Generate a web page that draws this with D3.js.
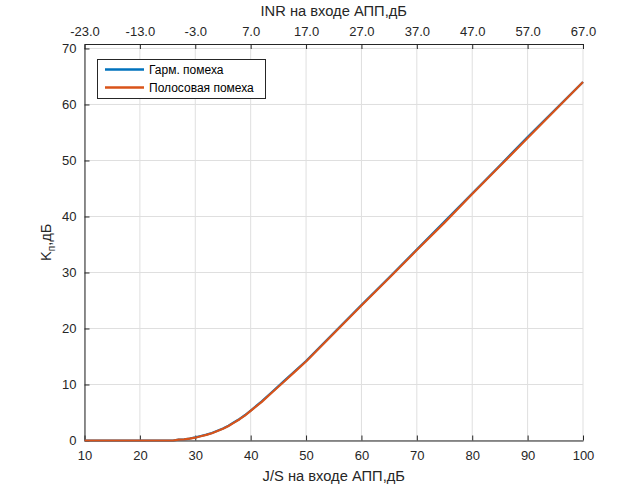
<!DOCTYPE html>
<html>
<head>
<meta charset="utf-8">
<script src="https://cdn.jsdelivr.net/npm/d3@7"></script>
<style>
  body { margin: 0; background: #fff; }
  svg { font-family: "Liberation Sans", Arial, Helvetica, sans-serif; }
</style>
</head>
<body>
<svg id="chart" width="644" height="484"></svg>
<script>
// J/S на входе АПП, дБ
var jsValues = [10, 14, 18, 22, 26, 27, 28, 29, 30, 31, 32, 33, 34, 35, 36, 37, 38, 39, 40,
                42, 44, 46, 48, 50, 55, 60, 65, 70, 75, 80, 85, 90, 95, 100];
// K_п, дБ
var harmK = [0, 0, 0, 0, 0, 0.15, 0.2, 0.35, 0.55, 0.8, 1.05, 1.35, 1.75, 2.15, 2.65, 3.25, 3.85, 4.55, 5.35,
             7.0, 8.8, 10.6, 12.4, 14.2, 19.2, 24.2, 29.1, 34.1, 39.1, 44.1, 49.1, 54.2, 59.1, 64.0];
var bandK = [0, 0, 0, 0, 0, 0.15, 0.2, 0.35, 0.5, 0.75, 1.0, 1.3, 1.7, 2.1, 2.6, 3.2, 3.8, 4.5, 5.3,
             6.9, 8.7, 10.5, 12.3, 14.1, 19.1, 24.1, 29.0, 34.0, 38.9, 44.0, 49.0, 54.0, 59.0, 64.0];

var seriesNames = ["Гарм. помеха", "Полосовая помеха"];
var seriesColors = ["#0072BD", "#D95319"];

var xTicks = [10, 20, 30, 40, 50, 60, 70, 80, 90, 100];
var inrTicks = [-23, -13, -3, 7, 17, 27, 37, 47, 57, 67];
var yTicks = [0, 10, 20, 30, 40, 50, 60, 70];

var svg = d3.select("#chart");

var pLeft = 84.5, pRight = 583, pTop = 44, pBottom = 440.5;

var x = d3.scaleLinear().domain([10, 100]).range([pLeft, pRight]),
    xTop = d3.scaleLinear().domain([-23, 67]).range([pLeft, pRight]),
    y = d3.scaleLinear().domain([0, 70.8]).range([pBottom, pTop]);

var axisColor = "#262626",
    gridColor = "#dfdfdf";

// grid
var grid = svg.append("g");
grid.selectAll("line.gx")
  .data(xTicks)
  .enter().append("line")
  .attr("x1", function(d) { return x(d); })
  .attr("x2", function(d) { return x(d); })
  .attr("y1", pTop).attr("y2", pBottom)
  .attr("stroke", gridColor).attr("stroke-width", 1);
grid.selectAll("line.gy")
  .data(yTicks)
  .enter().append("line")
  .attr("x1", pLeft).attr("x2", pRight)
  .attr("y1", function(d) { return y(d); })
  .attr("y2", function(d) { return y(d); })
  .attr("stroke", gridColor).attr("stroke-width", 1);

// axes
function styleAxis(g) {
  g.select(".domain").attr("stroke", axisColor).attr("stroke-width", 1);
  g.selectAll(".tick line").attr("stroke", axisColor);
  g.selectAll(".tick text").attr("fill", axisColor).attr("font-size", "13px")
    .attr("font-family", "'Liberation Sans', Arial, sans-serif");
}

var fmtTop = function(d) { return d3.format(".1f")(d).replace("\u2212", "-"); };

svg.append("g")
  .attr("transform", "translate(0," + pBottom + ")")
  .call(d3.axisBottom(x).tickValues(xTicks).tickSizeInner(-5).tickSizeOuter(0).tickPadding(10))
  .call(styleAxis);

svg.append("g")
  .attr("transform", "translate(0," + pTop + ")")
  .call(d3.axisTop(xTop).tickValues(inrTicks).tickFormat(fmtTop).tickSizeInner(-5).tickSizeOuter(0).tickPadding(8))
  .call(styleAxis);

svg.append("g")
  .attr("transform", "translate(" + pLeft + ",0)")
  .call(d3.axisLeft(y).tickValues(yTicks).tickSizeInner(-5).tickSizeOuter(0).tickPadding(8))
  .call(styleAxis);

// curves
var line = d3.line()
  .x(function(d) { return x(d[0]); })
  .y(function(d) { return y(d[1]); });

[harmK, bandK].forEach(function(vals, i) {
  svg.append("path")
    .datum(jsValues.map(function(v, j) { return [v, vals[j]]; }))
    .attr("d", line)
    .attr("fill", "none")
    .attr("stroke", seriesColors[i])
    .attr("stroke-width", 2.2)
    .attr("stroke-linejoin", "round");
});

// labels
svg.append("text")
  .attr("x", (pLeft + pRight) / 2).attr("y", 481)
  .attr("text-anchor", "middle")
  .attr("font-size", "14.7px").attr("fill", axisColor)
  .text("J/S на входе АПП,дБ");

svg.append("text")
  .attr("x", (pLeft + pRight) / 2).attr("y", 16)
  .attr("text-anchor", "middle")
  .attr("font-size", "14.7px").attr("fill", axisColor)
  .text("INR на входе АПП,дБ");

var yl = svg.append("text")
  .attr("transform", "translate(51," + ((pTop + pBottom) / 2) + ") rotate(-90)")
  .attr("text-anchor", "middle")
  .attr("font-size", "14.7px").attr("fill", axisColor);
yl.append("tspan").text("K");
yl.append("tspan").attr("font-size", "10px").attr("dy", 4).text("п");
yl.append("tspan").attr("dy", -4).text(",дБ");

// legend
var lg = svg.append("g");
lg.append("rect")
  .attr("x", 97.5).attr("y", 59.5)
  .attr("width", 168).attr("height", 39)
  .attr("fill", "#fff").attr("stroke", axisColor).attr("stroke-width", 1);

seriesNames.forEach(function(name, i) {
  var ly = 69.5 + i * 18;
  lg.append("line")
    .attr("x1", 105).attr("x2", 144)
    .attr("y1", ly).attr("y2", ly)
    .attr("stroke", seriesColors[i]).attr("stroke-width", 2.5);
  lg.append("text")
    .attr("x", 149).attr("y", ly + 4.5)
    .attr("font-size", "12px").attr("fill", "#000")
    .text(name);
});
</script>
</body>
</html>
